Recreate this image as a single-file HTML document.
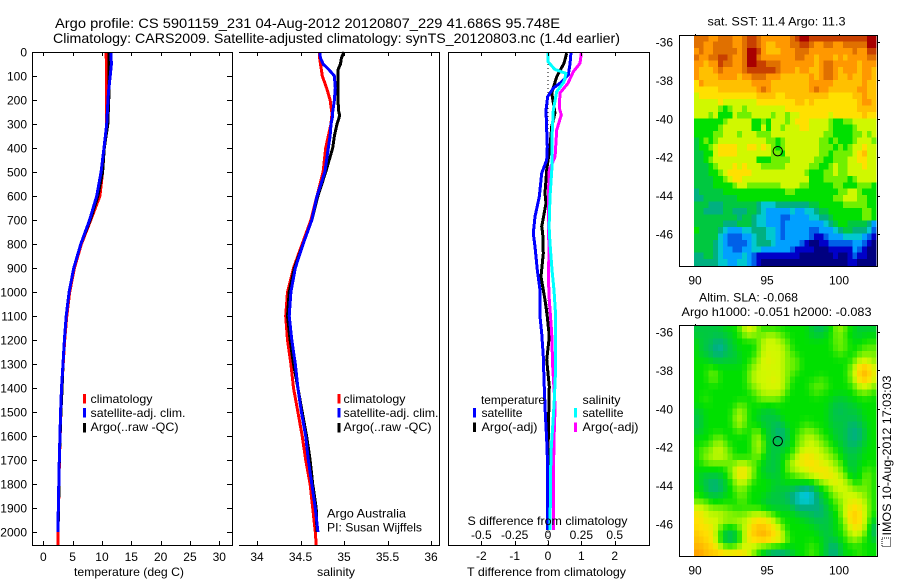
<!DOCTYPE html>
<html lang="en">
<head>
<meta charset="utf-8">
<title>Argo profile 5901159_231</title>
<style>
html,body{margin:0;padding:0;background:#fff;}
#chart{display:block;width:900px;height:580px;font-family:"Liberation Sans",sans-serif;fill:#000;}
#chart text{font-size:12px;}
#chart text.title{font-size:14px;}
</style>
</head>
<body>
<svg id="chart" xmlns="http://www.w3.org/2000/svg" width="900" height="580" viewBox="0 0 900 580">
  <rect x="0" y="0" width="900" height="580" fill="#fff"/>
  <text class="title" x="55" y="28" textLength="505" lengthAdjust="spacingAndGlyphs">Argo profile: CS 5901159_231 04-Aug-2012 20120807_229 41.686S 95.748E</text>
  <text class="title" x="53" y="43" textLength="567" lengthAdjust="spacingAndGlyphs">Climatology: CARS2009. Satellite-adjusted climatology: synTS_20120803.nc (1.4d earlier)</text>

  <g id="layer-maps"></g>
  <g id="layer-lines"></g>
  <g id="layer-axes"></g>

  <text x="74" y="576" textLength="110" lengthAdjust="spacingAndGlyphs">temperature (deg C)</text>
  <text x="317" y="576" textLength="38" lengthAdjust="spacingAndGlyphs">salinity</text>
  <text x="467" y="576" textLength="159" lengthAdjust="spacingAndGlyphs">T difference from climatology</text>
  <text x="467.5" y="525" textLength="160" lengthAdjust="spacingAndGlyphs">S difference from climatology</text>

  <g>
    <rect x="83" y="394" width="3" height="9.5" fill="#f00"/>
    <text x="90.5" y="403" textLength="62" lengthAdjust="spacingAndGlyphs">climatology</text>
    <rect x="83" y="408" width="3" height="9.5" fill="#00f"/>
    <text x="90.5" y="417" textLength="95" lengthAdjust="spacingAndGlyphs">satellite-adj. clim.</text>
    <rect x="83" y="423" width="3" height="9.5" fill="#000"/>
    <text x="90.5" y="431" textLength="88" lengthAdjust="spacingAndGlyphs">Argo(..raw -QC)</text>
  </g>
  <g>
    <rect x="337.5" y="394" width="3" height="9.5" fill="#f00"/>
    <text x="343.5" y="403" textLength="62" lengthAdjust="spacingAndGlyphs">climatology</text>
    <rect x="337.5" y="408" width="3" height="9.5" fill="#00f"/>
    <text x="343.5" y="417" textLength="95" lengthAdjust="spacingAndGlyphs">satellite-adj. clim.</text>
    <rect x="337.5" y="423" width="3" height="9.5" fill="#000"/>
    <text x="343.5" y="431" textLength="88" lengthAdjust="spacingAndGlyphs">Argo(..raw -QC)</text>
  </g>
  <text x="327" y="517.5" textLength="79" lengthAdjust="spacingAndGlyphs">Argo Australia</text>
  <text x="327" y="531.5" textLength="95" lengthAdjust="spacingAndGlyphs">PI: Susan Wijffels</text>

  <g>
    <text x="481" y="404" textLength="64" lengthAdjust="spacingAndGlyphs">temperature</text>
    <rect x="473" y="408" width="3" height="9.5" fill="#00f"/>
    <text x="481.5" y="417" textLength="41" lengthAdjust="spacingAndGlyphs">satellite</text>
    <rect x="473" y="422.5" width="3" height="9.5" fill="#000"/>
    <text x="481.5" y="431" textLength="56" lengthAdjust="spacingAndGlyphs">Argo(-adj)</text>
    <text x="582.5" y="404" textLength="38" lengthAdjust="spacingAndGlyphs">salinity</text>
    <rect x="574" y="408" width="3" height="9.5" fill="#0ff"/>
    <text x="582.5" y="417" textLength="41" lengthAdjust="spacingAndGlyphs">satellite</text>
    <rect x="574" y="422.5" width="3" height="9.5" fill="#f0f"/>
    <text x="582.5" y="431" textLength="56" lengthAdjust="spacingAndGlyphs">Argo(-adj)</text>
  </g>

  <text x="707.5" y="25.5" textLength="138" lengthAdjust="spacingAndGlyphs">sat. SST: 11.4 Argo: 11.3</text>
  <text x="699" y="301.5" textLength="99" lengthAdjust="spacingAndGlyphs">Altim. SLA: -0.068</text>
  <text x="681.5" y="316" textLength="190" lengthAdjust="spacingAndGlyphs">Argo h1000: -0.051 h2000: -0.083</text>
  <rect x="882" y="538" width="8.5" height="8.5" fill="none" stroke="#000" stroke-width="1" stroke-dasharray="1 1"/>
  <text transform="translate(891 535.5) rotate(-90)" x="0" y="0" textLength="160" lengthAdjust="spacingAndGlyphs">IMOS 10-Aug-2012 17:03:03</text>
</svg>

<script>
/* ---------- profile data (depth in m) ---------- */
const depthTemp = [0,50,100,170,300,400,500,600,700,800,900,1000,1100,1200,1300,1400,1500,1700,1900,2000];
const tempClim = [10.7,10.75,10.8,10.8,10.8,10.4,10.1,9.65,8.1,6.5,5.3,4.5,4.0,3.65,3.4,3.15,3.0,2.75,2.6,2.5];
const tempSat = [11.5,11.6,11.4,11.1,10.8,10.35,9.85,9.1,7.9,6.4,5.2,4.4,3.9,3.6,3.35,3.1,2.95,2.73,2.56,2.5];
const tempArgo = [11.2,11.2,11.2,11.2,11.0,10.4,10.1,9.3,8.0,6.4,5.2,4.4,3.9,3.6,3.35,3.2,3.0,2.72,2.6,2.5];
const depthClimDeep = [2000,2054];
const tempClimDeep = [2.5,2.5];

const depthSal = [0,25,50,75,100,150,200,250,265,300,350,400,500,600,700,800,900,1000,1100,1200,1300,1400,1500,1600,1700,1800,1900,2000];
const salClim = [34.72,34.72,34.73,34.74,34.75,34.80,34.84,34.86,34.86,34.85,34.82,34.79,34.76,34.69,34.62,34.52,34.42,34.35,34.33,34.35,34.39,34.42,34.47,34.52,34.56,34.61,34.64,34.67];
const salSat = [34.72,34.73,34.76,34.83,34.89,34.90,34.89,34.87,34.87,34.85,34.84,34.82,34.78,34.69,34.63,34.53,34.44,34.39,34.37,34.40,34.44,34.47,34.51,34.56,34.59,34.63,34.67,34.70];
const salArgo = [35.00,34.97,34.96,34.93,34.93,34.93,34.93,34.94,34.95,34.92,34.89,34.87,34.79,34.70,34.63,34.53,34.43,34.37,34.35,34.38,34.42,34.47,34.52,34.57,34.61,34.64,34.68,34.69];
const depthSalDeep = [2000,2054];
const salClimDeep = [34.67,34.68];

const depthDiffTSat = [0,50,96,124,151,186,242,325,395,450,505,603,686,755,811,908,992,1103,1172,1269,1367,1505,1617,1728,1992];
const diffTSat = [0.69,0.66,0.61,0.41,0.16,-0.01,-0.06,-0.04,-0.02,-0.04,-0.19,-0.26,-0.39,-0.44,-0.39,-0.32,-0.24,-0.24,-0.19,-0.14,-0.12,-0.08,-0.04,-0.01,-0.01];
const depthDiffTArgo = [5,47,103,171,254,311,395,492,588,630,728,755,839,936,1033,1103,1186,1283,1394,1589,1769,1992];
const diffTArgo = [0.56,0.48,0.26,0.11,0.21,0.11,0.06,-0.04,-0.09,-0.06,-0.19,-0.16,-0.14,-0.21,-0.09,-0.02,0.04,-0.04,0.04,0.01,0,-0.01];
const depthDiffSSat = [0,40,72,89,124,165,242,353,478,603,728,797,908,992,1103,1311,1450,1561,1672,1992];
const diffSSat = [0,0,0.05,0.135,0.12,0.065,0.04,0.03,0.03,0.015,0.008,0.015,0.03,0.045,0.058,0.058,0.047,0.035,0.022,0.015];
const depthDiffSArgo = [5,47,82,130,171,233,262,325,436,492,603,728,825,936,1033,1172,1311,1478,1617,1797,1992];
const diffSArgo = [0.25,0.24,0.19,0.15,0.09,0.085,0.10,0.065,0.053,0.01,0.002,0.002,0.008,0.002,0.01,0.028,0.035,0.053,0.045,0.04,0.04];

/* ---------- tick labels ---------- */
const depthTicks = [0,100,200,300,400,500,600,700,800,900,1000,1100,1200,1300,1400,1500,1600,1700,1800,1900,2000];
const tempTicks = [0,5,10,15,20,25,30];
const salTicks = [34,34.5,35,35.5,36];
const diffTTicks = [-2,-1,0,1,2];
const diffSTicks = [-0.5,-0.25,0,0.25,0.5];
const lonTicks = [90,95,100];
const latTicks = [-36,-38,-40,-42,-44,-46];

/* ---------- argo float position ---------- */
const floatLon = [95.748];
const floatLat = [-41.686];

/* ---------- map colour levels (0 = deep blue ... 15 = dark red) ---------- */
const mapColors = ["#000080","#0000c8","#0060e8","#00a0ff","#00c8d0","#00b080","#00c840","#00e000","#70f000","#d0f800","#ffe000","#ffc000","#ff9800","#e07000","#c84000","#a80000"];

const sstGrid = [
[13,13,13,12,12,13,13,13,12,12,13,14,14,13,12,12,12,12,12,12,13,14,15,15,14,14,14,14,14,14,14,14,14,14,14,14,15,15],
[13,13,12,12,13,13,13,13,12,12,13,14,14,13,12,11,11,12,12,12,13,13,14,14,13,12,12,13,13,12,12,13,13,13,13,13,15,15],
[12,13,12,12,13,13,13,13,13,12,13,15,15,14,12,11,11,11,12,12,12,13,13,13,12,12,12,12,12,12,12,12,12,13,12,12,14,14],
[13,12,12,13,13,14,14,13,12,12,13,15,15,13,12,12,12,12,12,12,12,13,13,12,12,11,12,12,12,11,12,11,12,12,12,12,13,13],
[12,12,11,12,12,14,13,13,12,12,13,15,15,14,14,13,13,13,12,12,12,12,12,12,12,11,12,13,13,12,12,12,12,12,11,12,12,12],
[12,11,11,11,12,13,12,12,12,12,13,14,14,14,14,14,14,13,12,12,12,11,12,12,11,11,12,13,13,12,11,12,12,12,11,12,12,11],
[12,11,11,11,11,12,12,12,12,11,12,12,13,13,13,12,12,12,11,11,11,11,11,11,12,11,12,13,13,12,11,11,12,11,11,12,12,11],
[10,12,11,11,11,11,11,11,11,11,11,11,12,12,12,12,11,11,11,11,11,11,11,11,12,12,12,12,12,11,11,11,11,11,11,12,11,11],
[10,10,10,10,10,11,11,11,11,11,11,11,11,12,13,12,11,11,11,11,11,11,11,11,12,13,12,12,11,11,11,11,11,11,12,12,11,11],
[9,10,10,10,10,10,10,10,10,10,10,10,10,11,11,11,11,10,10,11,11,11,11,11,11,11,11,11,10,10,10,10,10,11,11,12,11,11],
[9,9,9,9,9,10,9,9,9,9,9,9,9,10,10,10,10,10,10,10,10,11,11,10,11,10,10,10,10,10,10,10,10,10,11,12,12,11],
[9,9,9,9,9,8,7,8,9,9,8,9,9,9,9,9,9,9,9,10,10,10,10,10,10,10,10,10,10,10,10,10,10,10,11,11,11,11],
[9,9,9,8,9,7,7,7,9,8,8,8,9,9,9,9,8,9,9,8,9,9,10,10,10,10,10,10,9,10,10,10,10,10,10,11,10,10],
[7,7,7,7,7,7,8,9,9,9,9,9,7,7,8,7,9,9,9,8,9,10,10,10,9,9,9,9,8,7,7,8,8,9,9,9,9,9],
[7,7,7,7,7,8,9,9,9,9,9,9,7,7,9,7,9,9,8,9,9,9,10,10,9,9,9,9,8,7,7,7,7,8,9,9,9,9],
[7,7,7,7,8,8,9,9,9,8,9,9,9,8,8,8,9,9,9,9,9,9,9,9,9,9,9,8,8,7,7,7,7,8,8,9,8,9],
[6,7,8,7,8,9,9,9,9,9,9,9,9,9,9,8,8,7,8,9,9,9,9,9,9,9,8,8,7,8,7,7,7,8,9,9,9,8],
[6,7,7,8,9,10,10,10,10,9,9,10,10,9,10,9,8,7,8,9,9,9,9,9,9,9,8,8,8,7,8,7,8,9,9,10,9,9],
[6,6,7,7,9,10,10,10,10,9,9,9,9,9,9,9,8,8,7,9,9,9,9,9,9,9,8,8,7,8,8,8,8,9,10,11,9,9],
[6,6,7,8,9,9,9,9,9,9,9,9,9,7,7,7,8,8,8,8,9,9,9,9,9,8,8,7,7,8,8,8,9,9,10,10,9,9],
[6,6,6,7,8,9,9,9,10,9,10,9,9,9,8,8,8,8,8,9,9,9,9,9,8,8,7,7,8,9,8,8,9,9,9,10,9,9],
[6,6,6,7,7,8,9,10,10,10,10,10,9,9,9,9,9,9,9,9,9,9,9,8,7,7,7,8,8,9,8,8,9,9,9,9,9,9],
[6,6,6,6,7,7,8,9,10,10,9,9,9,9,9,9,9,9,9,9,9,9,9,9,7,7,7,8,8,8,8,8,7,8,9,9,9,9],
[6,6,6,6,7,7,7,7,8,9,9,8,8,8,8,8,8,8,9,9,9,9,8,8,7,7,7,7,7,8,8,7,7,7,8,8,8,7],
[5,6,6,6,6,6,7,7,7,7,7,7,7,7,7,7,7,7,7,8,8,7,7,7,7,7,7,7,7,7,8,8,9,9,8,7,7,7],
[5,5,6,6,6,6,6,6,6,7,7,7,7,7,7,7,7,7,7,7,7,7,7,7,7,7,7,7,7,8,8,9,9,9,8,8,7,7],
[6,6,6,5,5,5,6,6,6,6,6,6,6,5,4,4,4,5,5,5,5,5,5,5,6,6,7,7,7,7,7,8,8,8,8,8,7,7],
[6,6,5,5,5,5,6,6,5,5,5,6,6,5,4,3,3,3,3,3,4,3,3,4,4,5,6,6,7,7,7,7,7,7,7,8,8,7],
[6,6,6,6,6,6,6,6,6,5,6,6,5,4,4,3,3,3,2,2,3,3,3,3,4,4,5,5,6,7,7,7,7,7,7,8,8,7],
[6,6,6,6,6,6,5,5,5,6,6,6,5,4,4,3,3,3,2,3,3,3,3,3,3,3,3,4,5,6,7,7,6,6,6,6,5,3],
[7,6,6,6,6,5,4,3,3,3,4,4,5,5,5,4,4,3,2,3,3,3,3,3,2,2,3,3,3,4,5,6,6,5,5,5,4,2],
[6,6,6,6,6,4,3,2,2,2,3,3,4,5,5,4,4,3,2,3,3,3,3,3,2,1,1,2,3,3,3,4,4,4,4,3,2,1],
[6,6,6,6,5,4,3,2,2,2,2,3,4,5,5,5,4,3,3,3,3,3,2,1,0,0,1,1,2,2,2,2,2,3,3,2,1,0],
[6,6,6,6,5,4,3,3,2,2,3,3,4,4,3,3,3,3,3,3,2,1,1,1,1,0,0,0,1,1,1,1,1,3,2,1,0,0],
[5,5,6,6,5,4,3,3,3,3,4,3,2,1,1,1,1,1,1,1,1,1,0,0,0,0,0,0,0,1,0,0,1,2,1,1,0,0],
[5,5,5,5,5,4,4,3,3,4,4,3,2,1,0,0,0,0,0,0,0,0,0,0,0,0,0,0,0,0,0,0,1,1,0,0,0,0]
];

const slaGrid = [
[6,6,6,6,6,6,7,7,7,8,9,10,9,8,7,7,7,7,7,7,7,7,7,7,6,6,5,6,7,8,9,8,7,7,6,6,6,6],
[6,6,6,6,6,6,6,6,7,7,8,9,8,8,8,9,9,8,8,7,7,7,7,7,6,6,6,7,7,8,8,7,7,6,6,7,7,7],
[7,6,6,6,5,5,6,6,7,7,7,7,7,8,9,9,9,9,8,8,7,7,7,7,7,7,7,7,7,8,8,8,7,7,7,7,7,7],
[7,6,6,5,5,4,5,6,6,7,7,7,7,8,9,9,9,9,9,8,7,7,7,7,7,7,7,7,7,8,8,8,7,7,7,8,8,8],
[7,6,6,6,5,5,6,6,6,7,7,7,7,8,9,9,9,9,9,8,8,7,7,7,7,7,7,7,7,7,8,7,7,7,8,8,8,8],
[7,7,7,6,6,6,6,6,6,6,7,7,8,9,9,10,9,9,9,8,8,8,7,7,7,7,7,7,7,7,7,7,7,8,9,9,9,8],
[7,7,7,8,7,7,7,7,7,7,7,8,8,9,9,9,9,9,9,8,8,8,7,7,7,7,7,7,7,7,7,7,8,9,10,11,10,9],
[7,7,7,8,8,7,7,7,7,7,7,8,9,9,9,9,9,9,9,8,8,7,7,7,7,7,7,7,7,7,7,7,8,9,11,12,11,9],
[7,7,7,8,8,7,7,7,7,7,7,8,9,9,9,9,10,9,9,8,7,7,7,7,7,7,8,7,7,7,7,7,8,9,10,11,10,9],
[7,7,7,7,7,7,7,7,7,7,7,8,8,9,9,9,9,9,9,8,7,7,7,7,8,8,8,8,7,7,7,7,7,8,9,9,9,8],
[7,7,7,7,7,7,7,7,7,7,7,7,8,8,9,9,9,9,9,7,7,7,7,7,7,8,7,7,7,7,7,7,7,7,8,8,8,7],
[7,7,8,7,7,7,7,7,7,7,7,7,7,8,8,8,8,8,7,7,7,7,7,7,7,7,7,7,7,6,6,6,7,7,7,7,7,7],
[7,7,7,7,7,7,7,7,7,8,8,7,7,7,7,7,7,7,7,7,7,7,7,7,7,7,7,7,6,6,6,6,6,6,7,7,7,7],
[6,6,7,7,7,7,7,7,8,9,8,7,7,7,6,6,6,7,7,7,7,7,7,7,7,7,7,7,6,6,5,6,6,6,6,7,7,7],
[6,6,7,7,7,7,7,7,8,9,8,7,7,6,6,6,6,6,7,7,7,7,7,7,7,7,7,7,6,6,6,6,6,6,6,7,7,7],
[6,6,7,7,7,7,7,7,8,9,8,7,7,7,6,6,6,5,6,7,7,7,7,8,7,7,7,7,6,6,6,6,5,5,6,6,7,7],
[6,6,7,7,7,7,7,7,7,8,7,7,8,8,7,6,6,5,5,6,7,7,8,8,8,8,7,7,7,6,6,6,5,5,5,6,7,7],
[7,7,7,7,8,8,7,7,7,7,7,7,8,9,7,6,6,5,5,6,7,8,8,9,9,8,8,7,7,6,6,6,5,5,5,6,7,7],
[7,7,7,8,8,9,8,7,7,7,7,7,8,9,8,6,6,6,6,6,7,8,8,9,9,9,8,8,7,7,6,6,5,5,6,6,7,7],
[7,8,8,8,9,9,8,8,7,7,7,7,8,9,8,6,6,6,6,7,7,8,9,9,9,9,9,8,8,7,7,6,6,6,6,7,7,7],
[7,8,8,9,9,9,9,8,7,7,7,7,8,8,7,6,6,6,7,7,8,9,10,10,10,9,9,9,8,8,7,6,6,6,6,7,7,7],
[7,7,8,8,8,8,8,8,8,9,9,8,8,7,7,6,6,6,7,8,9,9,10,10,10,10,9,9,9,8,8,7,6,6,7,7,7,7],
[7,7,7,7,7,7,7,8,9,10,10,9,8,7,6,6,6,6,7,8,9,9,9,9,10,10,10,10,9,9,8,7,6,6,7,7,8,7],
[7,6,6,6,6,6,7,8,9,10,10,9,8,7,7,6,6,6,7,7,7,8,8,9,9,9,10,10,10,9,9,8,7,6,7,8,8,7],
[7,6,6,5,5,6,6,7,8,9,9,8,7,7,7,7,7,6,7,7,7,7,7,7,7,8,8,9,9,10,9,9,8,7,7,8,8,7],
[7,7,6,5,5,5,6,7,8,8,8,7,7,7,7,7,6,6,6,6,6,5,5,4,5,6,7,7,8,9,9,9,9,8,8,8,8,7],
[7,7,6,6,6,6,7,7,7,8,8,7,7,7,7,6,6,6,6,5,5,4,4,3,4,5,6,7,8,8,9,9,9,9,9,8,8,7],
[8,8,8,7,7,7,7,7,7,8,8,7,7,7,6,6,6,6,6,6,5,4,4,4,4,5,6,6,7,8,8,9,9,10,9,9,8,7],
[9,9,9,8,8,8,8,8,7,7,7,7,7,7,7,6,6,6,6,6,6,5,5,5,5,5,5,6,7,7,8,9,10,10,10,9,8,7],
[10,10,9,9,9,9,8,8,8,8,8,9,9,9,9,8,8,7,7,7,7,6,6,6,6,5,5,6,6,7,8,9,10,11,10,9,8,7],
[10,10,9,9,9,9,9,9,9,9,9,9,10,10,10,10,9,8,7,7,7,7,7,6,6,6,6,6,6,7,7,9,10,11,10,9,8,6],
[10,10,10,10,9,8,7,7,7,8,9,9,11,11,11,10,10,9,8,7,7,7,7,7,7,6,6,6,6,7,7,8,9,10,10,9,7,5],
[11,10,10,10,9,7,6,5,6,7,9,10,11,11,12,11,10,10,9,7,7,7,7,7,7,7,6,6,6,7,7,8,9,9,9,8,7,5],
[11,11,10,10,9,7,6,5,6,7,9,10,10,11,11,11,10,10,9,8,7,7,7,7,7,7,7,6,6,6,7,7,8,9,8,7,7,6],
[11,11,11,10,10,8,7,7,7,8,9,9,9,8,8,8,8,8,8,7,7,7,7,7,8,7,7,6,5,5,6,7,7,7,7,7,7,7],
[12,12,11,11,11,11,11,11,11,11,10,9,8,7,6,5,4,4,4,5,6,7,7,7,8,7,7,6,5,5,6,7,7,7,8,7,7,7]
];

/* ---------- axis functions ---------- */
const NS = "http://www.w3.org/2000/svg";
const yDepth = d => 52 + d * 0.24;
const xTemp = t => 43.3 + t * 5.867;
const xSal = s => 257 + (s - 34) * 87;
const xDiffT = v => 548 + v * 33.33;
const xDiffS = v => 548 + v * 133.33;
const xLon = lon => 695 + (lon - 90) * 14.4;
const yLatTop = lat => 42 + (-36 - lat) * 19.2;
const yLatBottom = lat => 332 + (-36 - lat) * 19.2;

/* colour scale: fractional levels blend neighbouring stops */
function levelColor(level) {
  const lo = Math.max(0, Math.min(mapColors.length - 1, Math.floor(level)));
  const hi = Math.min(mapColors.length - 1, lo + 1);
  const f = Math.max(0, Math.min(1, level - lo));
  const rgb = c => [1, 3, 5].map(k => parseInt(c.substr(k, 2), 16));
  const a = rgb(mapColors[lo]);
  const b = rgb(mapColors[hi]);
  return "rgb(" + a.map((v, k) => Math.round(v + (b[k] - v) * f)).join(",") + ")";
}

/* the altimetry field in the reference is visibly smooth: soften it with its neighbours */
function softened(grid, j, i) {
  let sum = 0;
  let weight = 0;
  for (let dj = -1; dj <= 1; dj++) {
    for (let di = -1; di <= 1; di++) {
      const row = grid[j + dj];
      if (!row || row[i + di] === undefined) continue;
      const w = (dj === 0 && di === 0) ? 4 : ((dj === 0 || di === 0) ? 2 : 1);
      sum += row[i + di] * w;
      weight += w;
    }
  }
  return sum / weight;
}

const mapsLayer = document.getElementById("layer-maps");
const linesLayer = document.getElementById("layer-lines");
const axesLayer = document.getElementById("layer-axes");

function makeEl(tag, parent, name) {
  const el = document.createElementNS(NS, tag);
  
  
  parent.appendChild(el);
  return el;
}

function hLine(x1, x2, y, name) {
  const el = makeEl("rect", axesLayer, name);
  el.setAttribute("x", x1);
  el.setAttribute("y", Math.round(y));
  el.setAttribute("width", x2 - x1);
  el.setAttribute("height", 1);
  el.setAttribute("fill", "#000");
}

function vLine(x, y1, y2, name) {
  const el = makeEl("rect", axesLayer, name);
  el.setAttribute("x", Math.round(x));
  el.setAttribute("y", y1);
  el.setAttribute("width", 1);
  el.setAttribute("height", y2 - y1);
  el.setAttribute("fill", "#000");
}

function label(text, x, y, anchor, name) {
  const el = makeEl("text", axesLayer, name);
  el.setAttribute("x", x);
  el.setAttribute("y", y);
  el.setAttribute("text-anchor", anchor);
  el.textContent = text;
}

function profile(depths, values, xFn, color, name, width) {
  const el = makeEl("polyline", linesLayer, name);
  el.setAttribute("points", depths.map((d, i) => xFn(values[i]).toFixed(1) + "," + yDepth(d).toFixed(1)).join(" "));
  el.setAttribute("fill", "none");
  el.setAttribute("stroke", color);
  el.setAttribute("stroke-width", width);
  el.setAttribute("stroke-linejoin", "miter");
  el.setAttribute("shape-rendering", "crispEdges");
}

/* ---------- profile frames ---------- */
const frameTop = 52;
const frameBottom = 545;

// temperature panel
hLine(32, 233, frameTop, "temperature-top-spine");
hLine(32, 233, frameBottom, "temperature-bottom-spine");
vLine(32, frameTop, frameBottom + 1, "temperature-left-spine");
vLine(232, frameTop, frameBottom + 1, "temperature-right-spine");
depthTicks.forEach(d => {
  hLine(32, 37, yDepth(d), "depth-tick-left");
  hLine(227, 232, yDepth(d), "depth-tick-right");
  label(String(d), 27, yDepth(d) + 4.5, "end", "depth-tick-label");
});
tempTicks.forEach(t => {
  vLine(xTemp(t), frameTop, frameTop + 4, "temperature-tick-top");
  vLine(xTemp(t), frameBottom - 4, frameBottom, "temperature-tick-bottom");
  label(String(t), xTemp(t), 561, "middle", "temperature-tick-label");
});

// salinity panel
hLine(239, 440, frameTop, "salinity-top-spine");
hLine(239, 440, frameBottom, "salinity-bottom-spine");
vLine(439, frameTop, frameBottom + 1, "salinity-right-spine");
salTicks.forEach(s => {
  vLine(xSal(s), frameTop, frameTop + 4, "salinity-tick-top");
  vLine(xSal(s), frameBottom - 4, frameBottom, "salinity-tick-bottom");
  label(String(s), xSal(s), 561, "middle", "salinity-tick-label");
});

// difference panel
hLine(448, 650, frameTop, "difference-top-spine");
hLine(448, 650, frameBottom, "difference-bottom-spine");
vLine(448, frameTop, frameBottom + 1, "difference-left-spine");
vLine(649, frameTop, frameBottom + 1, "difference-right-spine");
diffTTicks.forEach(v => {
  vLine(xDiffT(v), frameTop, frameTop + 4, "t-difference-tick-top");
  vLine(xDiffT(v), frameBottom - 4, frameBottom, "t-difference-tick-bottom");
  label(String(v), xDiffT(v), 560, "middle", "t-difference-tick-label");
});
diffSTicks.forEach(v => {
  label(String(v), xDiffS(v), 539, "middle", "s-difference-tick-label");
});

/* ---------- profile lines ---------- */
profile(depthTemp, tempClim, xTemp, "#f00", "temperature-climatology-line", 3);
profile(depthClimDeep, tempClimDeep, xTemp, "#f00", "temperature-climatology-deep-line", 3);
profile(depthTemp, tempArgo, xTemp, "#000", "temperature-argo-line", 3);
profile(depthTemp, tempSat, xTemp, "#00f", "temperature-satellite-line", 3);

profile(depthSal, salClim, xSal, "#f00", "salinity-climatology-line", 3);
profile(depthSalDeep, salClimDeep, xSal, "#f00", "salinity-climatology-deep-line", 3);
profile(depthSal, salArgo, xSal, "#000", "salinity-argo-line", 3);
profile(depthSal, salSat, xSal, "#00f", "salinity-satellite-line", 3);

const zeroLine = makeEl("line", linesLayer, "difference-zero-line");
zeroLine.setAttribute("x1", xDiffT(0));
zeroLine.setAttribute("x2", xDiffT(0));
zeroLine.setAttribute("y1", frameTop);
zeroLine.setAttribute("y2", frameBottom);
zeroLine.setAttribute("stroke", "#000");
zeroLine.setAttribute("stroke-dasharray", "1 3");
zeroLine.setAttribute("shape-rendering", "crispEdges");

profile(depthDiffTArgo, diffTArgo, xDiffT, "#000", "t-difference-argo-line", 3);
profile(depthDiffTSat, diffTSat, xDiffT, "#00f", "t-difference-satellite-line", 3);
profile(depthDiffSArgo, diffSArgo, xDiffS, "#f0f", "s-difference-argo-line", 3);
profile(depthDiffSSat, diffSSat, xDiffS, "#0ff", "s-difference-satellite-line", 3);

/* ---------- maps ---------- */
function drawMap(grid, yLat, top, bottom, prefix, smooth) {
  const lonStart = 89.93;
  const latStart = yLat === yLatTop ? -35.64 : -35.66;
  grid.forEach((row, j) => {
    row.forEach((level, i) => {
      const cell = makeEl("rect", mapsLayer, prefix + "-cell");
      const x0 = xLon(lonStart + i / 3);
      const y0 = yLat(latStart - j / 3);
      const x1 = xLon(lonStart + (i + 1) / 3);
      const y1 = yLat(latStart - (j + 1) / 3);
      cell.setAttribute("x", x0.toFixed(2));
      cell.setAttribute("y", y0.toFixed(2));
      cell.setAttribute("width", (Math.min(x1, 877.5) - x0 + 0.3).toFixed(2));
      cell.setAttribute("height", (Math.min(y1, bottom) - y0 + 0.3).toFixed(2));
      cell.setAttribute("fill", levelColor(smooth ? softened(grid, j, i) : level));
      cell.setAttribute("shape-rendering", "crispEdges");
    });
  });
  hLine(679, 878, top, prefix + "-top-spine");
  hLine(679, 878, bottom, prefix + "-bottom-spine");
  vLine(679, top, bottom + 1, prefix + "-left-spine");
  vLine(877, top, bottom + 1, prefix + "-right-spine");
  lonTicks.forEach(lon => {
    vLine(xLon(lon), top - 1, top + 1, prefix + "-lon-tick");
    label(String(lon), xLon(lon), bottom + 18.5, "middle", prefix + "-lon-tick-label");
  });
  latTicks.forEach(lat => {
    hLine(877, 880, yLat(lat), prefix + "-lat-tick");
    label(String(lat), 673, yLat(lat) + 4.5, "end", prefix + "-lat-tick-label");
  });
  const marker = makeEl("circle", axesLayer, prefix + "-argo-position");
  marker.setAttribute("cx", xLon(floatLon[0]));
  marker.setAttribute("cy", yLat(floatLat[0]));
  marker.setAttribute("r", 4.7);
  marker.setAttribute("fill", "none");
  marker.setAttribute("stroke", "#000");
  marker.setAttribute("stroke-width", 1);
}
drawMap(sstGrid, yLatTop, 35, 266, "sst-map", false);
drawMap(slaGrid, yLatBottom, 325, 556, "sla-map", true);
</script>
</body>
</html>
